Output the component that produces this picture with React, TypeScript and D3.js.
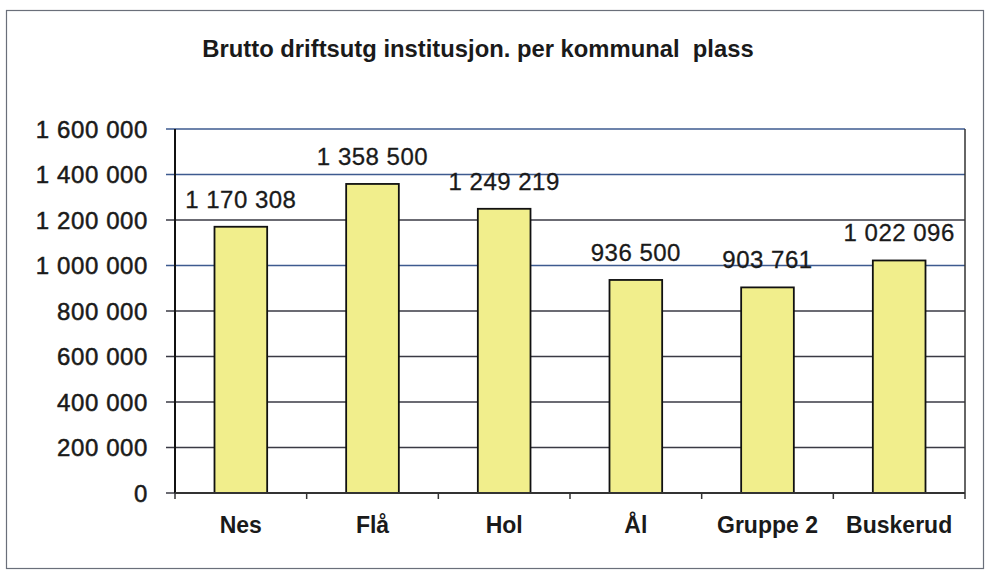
import React from "react";
import * as d3 from "d3";

const title = "Brutto driftsutg institusjon. per kommunal\u00a0 plass";
const categories = ["Nes", "Flå", "Hol", "Ål", "Gruppe 2", "Buskerud"];
const values = [1170308, 1358500, 1249219, 936500, 903761, 1022096];
const yTicks = [0, 200000, 400000, 600000, 800000, 1000000, 1200000, 1400000, 1600000];

const W = 986;
const H = 580;
const plot = { left: 175, right: 965, top: 129, bottom: 493 };

const fmt = (v: number) =>
  String(v).replace(/\B(?=(\d{3})+(?!\d))/g, " ");

export default function App() {
  const x = d3
    .scaleBand<string>()
    .domain(categories)
    .range([plot.left, plot.right])
    .padding(0);
  const y = d3.scaleLinear().domain([0, 1600000]).range([plot.bottom, plot.top]);
  const barW = x.bandwidth() * 0.4;
  const font = "'Liberation Sans', Arial, Helvetica, sans-serif";

  return (
    <svg
      width={W}
      height={H}
      viewBox={`0 0 ${W} ${H}`}
      style={{ position: "absolute", left: 0, top: 0, background: "#fff" }}
      fontFamily={font}
    >
      <rect x={0} y={0} width={W} height={H} fill="#fff" />
      {/* outer frame */}
      <rect x={6.5} y={10.5} width={977} height={558} fill="none" stroke="#6a6f7a" strokeWidth={1.2} />
      {/* title */}
      <text x={478} y={57} textAnchor="middle" fontSize={23.8} fontWeight="bold" fill="#1a1a1a">
        {title}
      </text>
      {/* gridlines */}
      {yTicks.map((t) => (
        <line
          key={"g" + t}
          x1={plot.left - 9}
          x2={plot.right}
          y1={y(t)}
          y2={y(t)}
          stroke={t >= 1400000 || t === 1000000 ? "#3d5a8f" : "#3a3a44"}
          strokeWidth={1.6}
        />
      ))}
      {/* plot border right */}
      <line x1={plot.right} x2={plot.right} y1={plot.top} y2={plot.bottom + 6} stroke="#333" strokeWidth={1.5} />
      {/* bars */}
      {categories.map((c, i) => {
        const cx = (x(c) as number) + x.bandwidth() / 2;
        return (
          <g key={c}>
            <rect
              x={cx - barW / 2}
              y={y(values[i])}
              width={barW}
              height={plot.bottom - y(values[i])}
              fill="#f1ee8c"
              stroke="#111"
              strokeWidth={1.8}
            />
            <text
              x={cx}
              y={y(values[i]) - 19}
              textAnchor="middle"
              fontSize={24}
              fill="#1a1a1a"
              stroke="#1a1a1a"
              strokeWidth={0.3}
              letterSpacing={0.5}
            >
              {fmt(values[i])}
            </text>
            <text
              x={cx}
              y={533}
              textAnchor="middle"
              fontSize={23}
              fontWeight="bold"
              fill="#1a1a1a"
            >
              {c}
            </text>
          </g>
        );
      })}
      {/* y axis */}
      <line x1={plot.left} x2={plot.left} y1={plot.top} y2={plot.bottom} stroke="#111" strokeWidth={2} />
      {yTicks.map((t) => (
        <text
          key={"t" + t}
          x={148}
          y={y(t)}
          dy="0.36em"
          textAnchor="end"
          fontSize={24}
          fill="#1a1a1a"
          stroke="#1a1a1a"
          strokeWidth={0.5}
          letterSpacing={0.6}
        >
          {fmt(t)}
        </text>
      ))}
      {/* x axis */}
      <line x1={plot.left} x2={plot.right} y1={plot.bottom} y2={plot.bottom} stroke="#333" strokeWidth={2} />
      {categories.map((c) => (
        <line
          key={"xt" + c}
          x1={x(c) as number}
          x2={x(c) as number}
          y1={plot.bottom}
          y2={plot.bottom + 6}
          stroke="#333"
          strokeWidth={1.5}
        />
      ))}
    </svg>
  );
}
